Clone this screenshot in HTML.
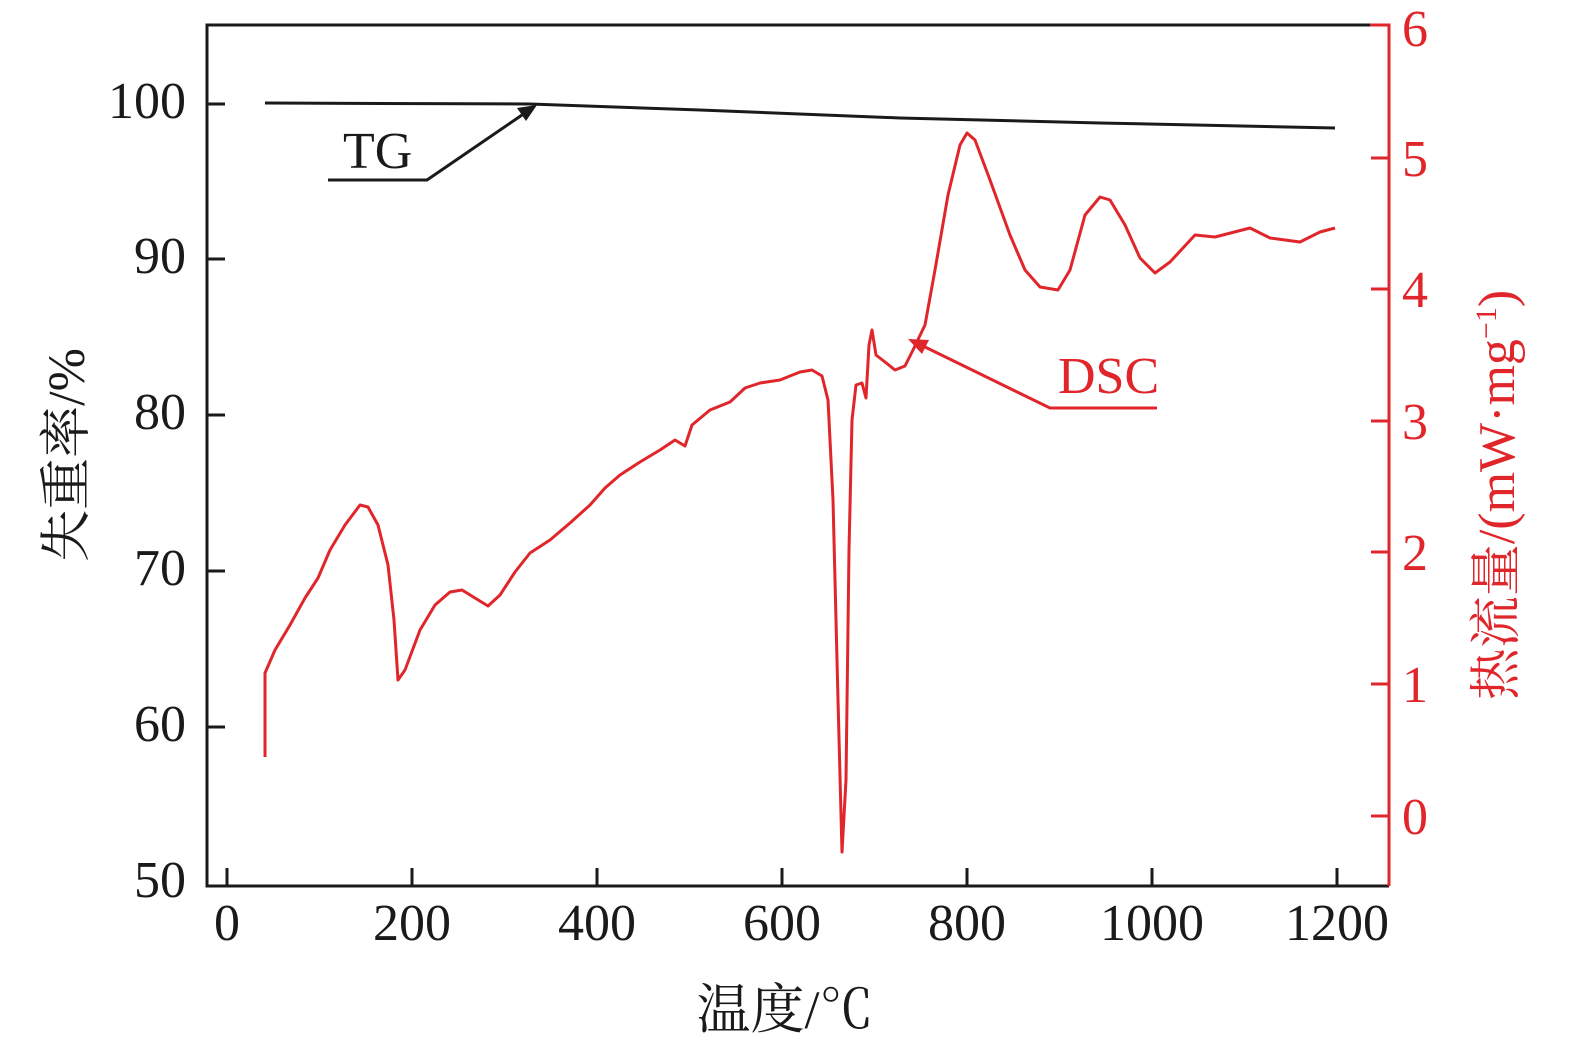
<!DOCTYPE html><html><head><meta charset="utf-8"><style>body{margin:0;background:#fff}svg{display:block}text{font-family:"Liberation Serif","Noto Serif CJK SC",serif}</style></head><body>
<svg width="1575" height="1050" viewBox="0 0 1575 1050">
<g stroke="#1a1a1a" stroke-width="3" fill="none">
<path d="M1372,25 H207 V886 H1389"/>
<path d="M207,104 h18 M207,259 h18 M207,415 h18 M207,571 h18 M207,727 h18"/>
<path d="M227,886 v-18 M412,886 v-18 M597,886 v-18 M782,886 v-18 M967,886 v-18 M1152,886 v-18 M1337,886 v-18"/>
</g>
<g stroke="#e0262b" stroke-width="3" fill="none">
<path d="M1370,25 H1389 V886"/>
<path d="M1389,158 h-18 M1389,289 h-18 M1389,421 h-18 M1389,552 h-18 M1389,684 h-18 M1389,816 h-18"/>
</g>
<g font-size="52" fill="#1a1a1a" text-anchor="end">
<text x="186" y="118">100</text><text x="186" y="273">90</text><text x="186" y="429">80</text><text x="186" y="585">70</text><text x="186" y="741">60</text><text x="186" y="897">50</text>
</g>
<g font-size="52" fill="#1a1a1a" text-anchor="middle">
<text x="227" y="940">0</text><text x="412" y="940">200</text><text x="597" y="940">400</text><text x="782" y="940">600</text><text x="967" y="940">800</text><text x="1152" y="940">1000</text><text x="1337" y="940">1200</text>
</g>
<g font-size="52" fill="#e0262b">
<text x="1402" y="46">6</text><text x="1402" y="176">5</text><text x="1402" y="307">4</text><text x="1402" y="439">3</text><text x="1402" y="570">2</text><text x="1402" y="702">1</text><text x="1402" y="834">0</text>
</g>
<text x="785" y="1028" font-size="54" text-anchor="middle" fill="#1a1a1a">温度/℃</text>
<text transform="translate(84,455) rotate(-90)" font-size="52" text-anchor="middle" fill="#1a1a1a">失重率/%</text>
<text transform="translate(1514,495) rotate(-90)" font-size="52" text-anchor="middle" fill="#e0262b">热流量/(mW·mg<tspan font-size="30" dy="-18">−1</tspan><tspan dy="18">)</tspan></text>
<path d="M265,103 L530,104 L700,110 L900,118 L1100,123 L1335,128" stroke="#1a1a1a" stroke-width="3" fill="none"/>
<path d="M265,757 L265,673 L275,650 L290,625 L305,598 L318,578 L330,550 L345,525 L360,505 L368,507 L378,525 L388,565 L394,620 L398,680 L405,670 L420,630 L435,605 L450,592 L462,590 L475,598 L488,606 L500,595 L515,572 L530,553 L550,540 L570,523 L590,505 L605,488 L620,475 L640,462 L660,450 L675,440 L685,446 L692,425 L710,410 L730,402 L745,388 L760,383 L780,380 L800,372 L812,370 L822,376 L828,400 L833,500 L838,700 L842,852 L846,780 L849,550 L852,420 L856,385 L862,383 L866,398 L869,345 L872,330 L876,355 L885,362 L895,370 L905,366 L913,350 L925,325 L935,270 L948,195 L960,145 L967,133 L975,140 L990,180 L1010,235 L1025,270 L1040,287 L1058,290 L1070,270 L1085,215 L1100,197 L1110,200 L1125,225 L1140,258 L1155,273 L1170,262 L1195,235 L1215,237 L1250,228 L1270,238 L1300,242 L1320,232 L1335,228" stroke="#e0262b" stroke-width="3" fill="none" stroke-linejoin="round"/>
<text x="343" y="168" font-size="52" fill="#1a1a1a">TG</text>
<path d="M328,180 H427 L522,115" stroke="#1a1a1a" stroke-width="3" fill="none"/>
<path d="M537,105 L517,108 L526,121 z" fill="#1a1a1a"/>
<text x="1058" y="393" font-size="52" fill="#e0262b">DSC</text>
<path d="M1157,408 H1050 L925,347" stroke="#e0262b" stroke-width="3" fill="none"/>
<path d="M908,339 L929,340 L922,354 z" fill="#e0262b"/>
</svg></body></html>
